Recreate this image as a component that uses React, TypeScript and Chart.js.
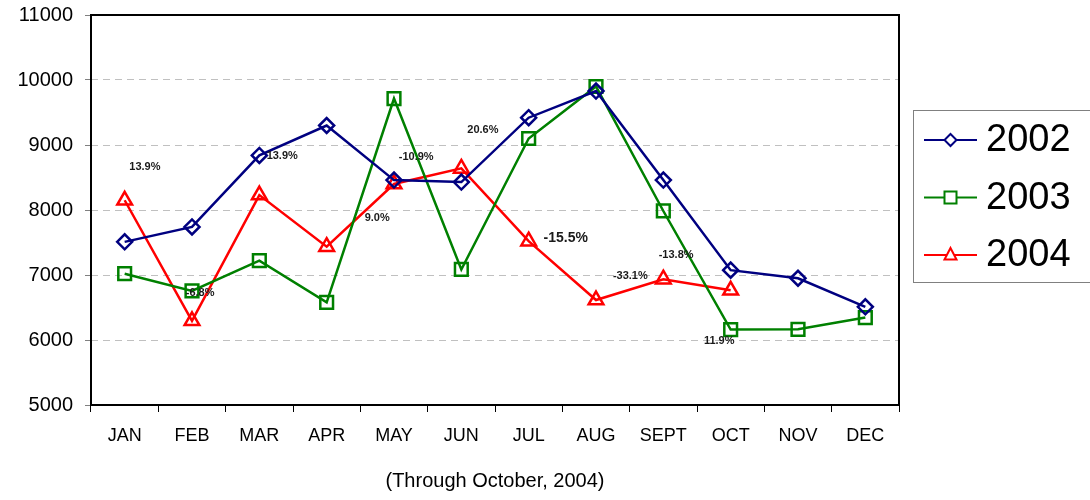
import React, { useEffect, useRef } from "react";
import { Chart, registerables } from "chart.js";

Chart.register(...registerables);

const months = ["JAN", "FEB", "MAR", "APR", "MAY", "JUN", "JUL", "AUG", "SEPT", "OCT", "NOV", "DEC"];
const yearLabels = ["2002", "2003", "2004"];
const values2002 = [7510, 7740, 8840, 9300, 8460, 8430, 9420, 9830, 8460, 7075, 6950, 6510];
const values2003 = [7020, 6755, 7220, 6580, 9715, 7085, 9100, 9900, 7985, 6160, 6165, 6345];
const values2004 = [8150, 6295, 8230, 7435, 8400, 8640, 7520, 6615, 6935, 6765, null, null];
const yTicks = [5000, 6000, 7000, 8000, 9000, 10000, 11000];

// percentage annotations: text, category position (fractional index), value position
const noteTexts = ["13.9%", "-6.8%", "13.9%", "9.0%", "-10.9%", "20.6%", "-15.5%", "-33.1%", "-13.8%", "11.9%"];
const noteCats = [0.3, 1.12, 2.34, 3.75, 4.33, 5.32, 6.55, 7.51, 8.19, 8.83];
const noteValues = [8660, 6720, 8830, 7880, 8815, 9230, 7570, 6985, 7310, 5985];
const noteBig = [false, false, false, false, false, false, true, false, false, false];

const FONT = "'Liberation Sans', Arial, sans-serif";
const colors = ["#000080", "#008000", "#FF0000"];
const styles = ["rectRot", "rect", "triangle"];

const notesPlugin = {
  id: "notes",
  afterDatasetsDraw(chart: any) {
    const ctx = chart.ctx;
    const xs = chart.scales.x;
    const ys = chart.scales.y;
    ctx.save();
    ctx.fillStyle = "#1a1a1a";
    ctx.textAlign = "center";
    ctx.textBaseline = "middle";
    noteTexts.forEach((t, i) => {
      ctx.font = `bold ${noteBig[i] ? 14 : 11}px ${FONT}`;
      ctx.fillText(t, xs.getPixelForValue(noteCats[i]), ys.getPixelForValue(noteValues[i]));
    });
    ctx.restore();
  },
};

const framePlugin = {
  id: "frame",
  afterDraw(chart: any) {
    const ctx = chart.ctx;
    const a = chart.chartArea;
    ctx.save();
    ctx.strokeStyle = "#000";
    ctx.lineWidth = 2;
    ctx.strokeRect(a.left, a.top, a.right - a.left, a.bottom - a.top);
    // legend
    const bx = a.right + 14;
    const by = 110;
    ctx.strokeStyle = "#808080";
    ctx.lineWidth = 1;
    ctx.strokeRect(bx + 0.5, by + 0.5, 200, 172);
    chart.data.datasets.forEach((ds: any, i: number) => {
      const cy = by + 30 + i * 57.5;
      ctx.strokeStyle = ds.borderColor;
      ctx.lineWidth = 2;
      ctx.beginPath();
      ctx.moveTo(bx + 11, cy);
      ctx.lineTo(bx + 64, cy);
      ctx.stroke();
      const mx = bx + 37.5;
      ctx.fillStyle = "#fff";
      ctx.beginPath();
      if (i === 0) {
        ctx.moveTo(mx, cy - 6);
        ctx.lineTo(mx + 6, cy);
        ctx.lineTo(mx, cy + 6);
        ctx.lineTo(mx - 6, cy);
        ctx.closePath();
      } else if (i === 1) {
        ctx.rect(mx - 6, cy - 6, 12, 12);
      } else {
        ctx.moveTo(mx, cy - 7);
        ctx.lineTo(mx + 6, cy + 4.5);
        ctx.lineTo(mx - 6, cy + 4.5);
        ctx.closePath();
      }
      ctx.fill();
      ctx.stroke();
      ctx.fillStyle = "#000";
      ctx.font = `38px ${FONT}`;
      ctx.textAlign = "left";
      ctx.textBaseline = "middle";
      ctx.fillText(ds.label, bx + 73, cy + 1);
    });
    ctx.restore();
  },
};

export default function App() {
  const ref = useRef<HTMLCanvasElement>(null);
  useEffect(() => {
    document.body.style.margin = "0";
    const mk = (i: number, data: any[]) => ({
      label: yearLabels[i],
      data,
      borderColor: colors[i],
      backgroundColor: "rgba(255,255,255,0)",
      borderWidth: 2.5,
      pointStyle: styles[i],
      pointRadius: i === 0 ? 7.5 : i === 1 ? 9 : 8.5,
      pointBorderWidth: 2.5,
      pointBackgroundColor: "rgba(255,255,255,0)",
      pointBorderColor: colors[i],
      tension: 0,
      spanGaps: false,
    });
    const chart = new Chart(ref.current!, {
      type: "line",
      data: {
        labels: months,
        datasets: [mk(0, values2002), mk(1, values2003), mk(2, values2004)],
      },
      options: {
        animation: false,
        responsive: false,
        layout: { padding: { left: 0, right: 191, top: 15, bottom: 0 } },
        plugins: { legend: { display: false }, tooltip: { enabled: false } },
        scales: {
          x: {
            offset: true,
            grid: { drawOnChartArea: false, offset: true, tickLength: 7, color: "#000", lineWidth: 1 },
            border: { display: false },
            ticks: { color: "#000", font: { family: FONT, size: 18 }, padding: 13 },
            title: {
              display: true,
              text: "(Through October, 2004)",
              color: "#000",
              font: { family: FONT, size: 20 },
              padding: { top: 4, bottom: 7 },
            },
            afterFit(s: any) { s.height = 95; s.paddingLeft = 0; s.paddingRight = 0; },
          },
          y: {
            min: 5000,
            max: 11000,
            afterBuildTicks(s: any) { s.ticks = yTicks.map((v) => ({ value: v })); },
            grid: {
              color: (c: any) => (c.tick && (c.tick.value === 5000 || c.tick.value === 11000) ? "rgba(0,0,0,0)" : "#c0c0c0"),
              tickColor: "#808080",
              tickLength: 6,
              lineWidth: 1,
            },
            border: { display: false, dash: [7, 5] },
            ticks: {
              color: "#000",
              font: { family: FONT, size: 20 },
              padding: 12,
              callback: (v: any) => String(v),
            },
            afterFit(s: any) { s.width = 91; s.paddingTop = 0; s.paddingBottom = 0; },
          },
        },
      },
      plugins: [notesPlugin, framePlugin],
    });
    return () => chart.destroy();
  }, []);
  return <canvas ref={ref} width={1090} height={500} style={{ display: "block" }} />;
}
